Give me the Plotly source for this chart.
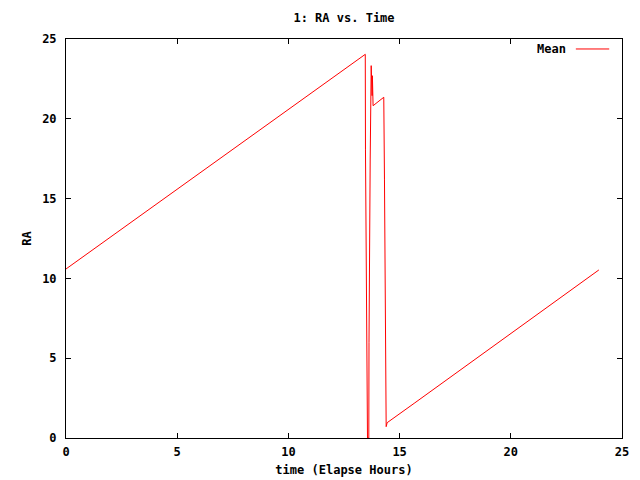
import plotly.graph_objects as go

# Data
time_hours = [0.0, 13.457, 13.466, 13.511, 13.556, 13.615, 13.624, 13.678, 13.723,
              13.763, 13.777, 13.808, 14.288, 14.320, 14.360, 14.396, 14.441, 15.653, 23.960]
ra_mean = [10.59, 24.04, 18.05, 6.00, 0.00, 0.00, 6.00, 17.48, 23.33,
           21.45, 22.70, 20.82, 21.35, 16.17, 5.83, 0.71, 0.96, 2.17, 10.53]

x_ticks = [0, 5, 10, 15, 20, 25]
y_ticks = [0, 5, 10, 15, 20, 25]

FONT = dict(family="DejaVu Sans Mono", size=12, color="black", weight="bold")

fig = go.Figure()
fig.add_trace(go.Scatter(x=time_hours, y=ra_mean, mode="lines", name="Mean",
                         line=dict(color="#ff0000", width=1), showlegend=False))

axis_common = dict(showgrid=False, zeroline=False, showline=True, linecolor="black",
                   linewidth=1, mirror="ticks", ticks="inside", ticklen=5,
                   tickcolor="black", tickwidth=1, tickfont=FONT, automargin=False)

fig.update_xaxes(range=[0, 25], tickvals=x_ticks, ticktext=[str(v) for v in x_ticks],
                 title=dict(text="time (Elapse Hours)", font=FONT, standoff=7),
                 ticklabelstandoff=3, **axis_common)
fig.update_yaxes(range=[0, 25], tickvals=y_ticks, ticktext=[str(v) for v in y_ticks],
                 title=dict(text="RA", font=FONT, standoff=7),
                 ticklabelstandoff=6, **axis_common)

# gnuplot-style key: text followed by line sample
fig.add_annotation(text="Mean", xref="paper", yref="paper", x=0.903, y=0.975,
                   xanchor="right", yanchor="middle", showarrow=False, font=FONT)
fig.add_shape(type="line", xref="paper", yref="paper", x0=0.917, x1=0.977,
              y0=0.975, y1=0.975, line=dict(color="#ff0000", width=1))

fig.update_layout(
    width=632, height=472,
    margin=dict(l=58, r=18, t=31, b=42),
    paper_bgcolor="white", plot_bgcolor="white",
    font=FONT,
    title=dict(text="1: RA vs. Time", font=FONT, x=0.5, xref="paper", xanchor="center",
               y=1 - 10 / 472, yanchor="middle"),
)

fig.write_html("out.html")
